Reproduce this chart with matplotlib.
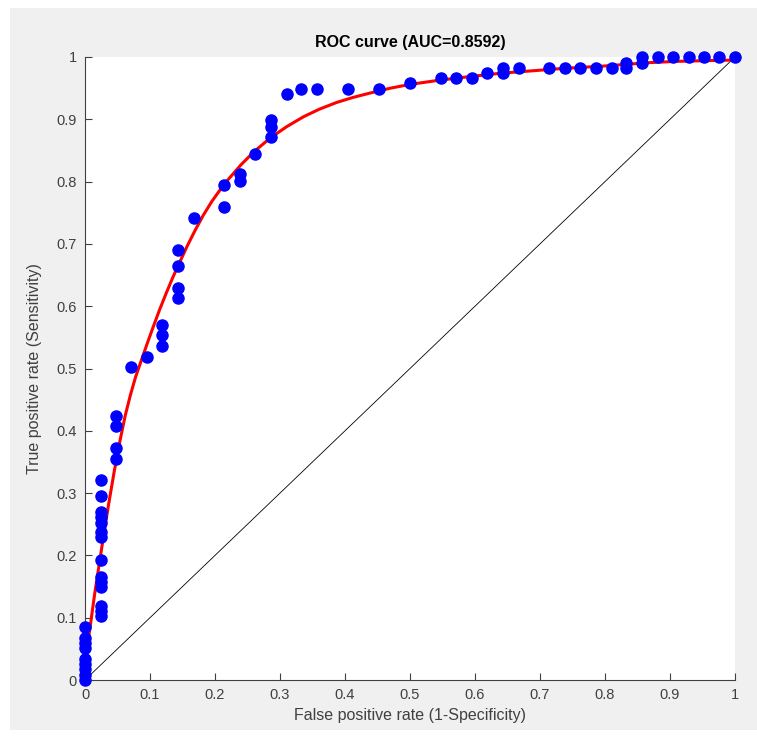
import matplotlib
matplotlib.use("Agg")
import matplotlib.pyplot as plt
from matplotlib.patches import Rectangle

# ── data ────────────────────────────────────────────────────────────────────
# observed operating points (1-specificity, sensitivity)
fpr_pts = (
    [0.0] * 9
    + [0.024] * 14
    + [0.048] * 4
    + [0.071, 0.095]
    + [0.119] * 3
    + [0.143] * 4
    + [0.167, 0.214, 0.214, 0.238, 0.238, 0.262]
    + [0.286] * 3
    + [0.310, 0.333, 0.357, 0.405, 0.452, 0.500, 0.548, 0.571, 0.595, 0.619,
       0.643, 0.643, 0.667, 0.714, 0.738, 0.762, 0.786, 0.810, 0.833, 0.833,
       0.857, 0.857, 0.881, 0.905, 0.929, 0.952, 0.976, 1.0]
)
tpr_pts = (
    [0.0, 0.008, 0.017, 0.025, 0.034, 0.051, 0.059, 0.068, 0.085]
    + [0.102, 0.110, 0.118, 0.150, 0.158, 0.166, 0.193, 0.230, 0.238, 0.252,
       0.261, 0.269, 0.296, 0.321]
    + [0.355, 0.372, 0.407, 0.424]
    + [0.502, 0.519]
    + [0.536, 0.553, 0.570]
    + [0.613, 0.630, 0.664, 0.690]
    + [0.741, 0.760, 0.794, 0.801, 0.812, 0.844]
    + [0.871, 0.888, 0.899]
    + [0.941, 0.948, 0.948, 0.948, 0.948, 0.958, 0.966, 0.966, 0.966, 0.975,
       0.974, 0.983, 0.982, 0.982, 0.982, 0.982, 0.982, 0.982, 0.983, 0.991,
       0.991, 1.0, 1.0, 1.0, 1.0, 1.0, 1.0, 1.0]
)

fit_x = [0.006, 0.008, 0.015, 0.026, 0.036, 0.045, 0.054, 0.062, 0.070, 0.078,
         0.087, 0.096, 0.105, 0.115, 0.125, 0.135, 0.145, 0.157, 0.169, 0.182,
         0.195, 0.208, 0.220, 0.240, 0.260, 0.285, 0.310, 0.336, 0.360, 0.387,
         0.412, 0.438, 0.470, 0.500, 0.540, 0.587, 0.640, 0.690, 0.740, 0.792,
         0.830, 0.869, 0.910, 0.950, 0.995]
fit_y = [0.072, 0.086, 0.139, 0.214, 0.280, 0.335, 0.385, 0.425, 0.458, 0.487,
         0.514, 0.541, 0.567, 0.595, 0.621, 0.646, 0.669, 0.696, 0.721, 0.746,
         0.768, 0.787, 0.803, 0.827, 0.848, 0.870, 0.888, 0.904, 0.916, 0.927,
         0.935, 0.942, 0.950, 0.956, 0.962, 0.968, 0.974, 0.978, 0.982, 0.985,
         0.988, 0.991, 0.993, 0.994, 0.995]

chance = [0.0, 1.0]
ticks = [i / 10 for i in range(11)]
tick_labels = ["0", "0.1", "0.2", "0.3", "0.4", "0.5", "0.6", "0.7", "0.8", "0.9", "1"]
auc = 0.8592

plt.rcParams["font.family"] = ["Liberation Sans", "DejaVu Sans"]

fig = plt.figure(figsize=(7.57, 7.38), dpi=100, facecolor="white")
# MATLAB-style grey figure panel
fig.patches.append(Rectangle((10 / 757, 8 / 738), 1 - 10 / 757, 1 - 16 / 738,
                             transform=fig.transFigure, facecolor="#f0f0f0",
                             edgecolor="none", zorder=-10))

ax = fig.add_axes([85 / 757, 1 - 680 / 738, 650 / 757, 623 / 738])
ax.set_facecolor("white")

ax.plot(chance, chance, color="black", lw=0.6, zorder=2)
ax.plot(fit_x, fit_y, color="#ff0000", lw=2.2, zorder=3, solid_joinstyle="round")
ax.plot(fpr_pts, tpr_pts, "o", color="#0000ff", ms=8.0, mec="#0000ff",
        ls="none", clip_on=False, zorder=4)

ax.set_xlim(0, 1)
ax.set_ylim(0, 1)
ax.set_xticks(ticks)
ax.set_yticks(ticks)
ax.set_xticklabels(tick_labels)
ax.set_yticklabels(tick_labels)

for side in ("top", "right"):
    ax.spines[side].set_visible(False)
for side in ("left", "bottom"):
    ax.spines[side].set_color("#404040")
    ax.spines[side].set_linewidth(0.8)
ax.tick_params(direction="in", length=5, width=0.8, colors="#404040",
               labelsize=10.5, pad=6)

ax.set_title(f"ROC curve (AUC={auc})", fontsize=11.5, fontweight="bold",
             color="black", pad=7)
ax.set_xlabel("False positive rate (1-Specificity)", fontsize=11.5,
              color="#404040", labelpad=4)
ax.set_ylabel("True positive rate (Sensitivity)", fontsize=11.5,
              color="#404040", labelpad=10)

fig.savefig("out.png", dpi=100, facecolor=fig.get_facecolor())
